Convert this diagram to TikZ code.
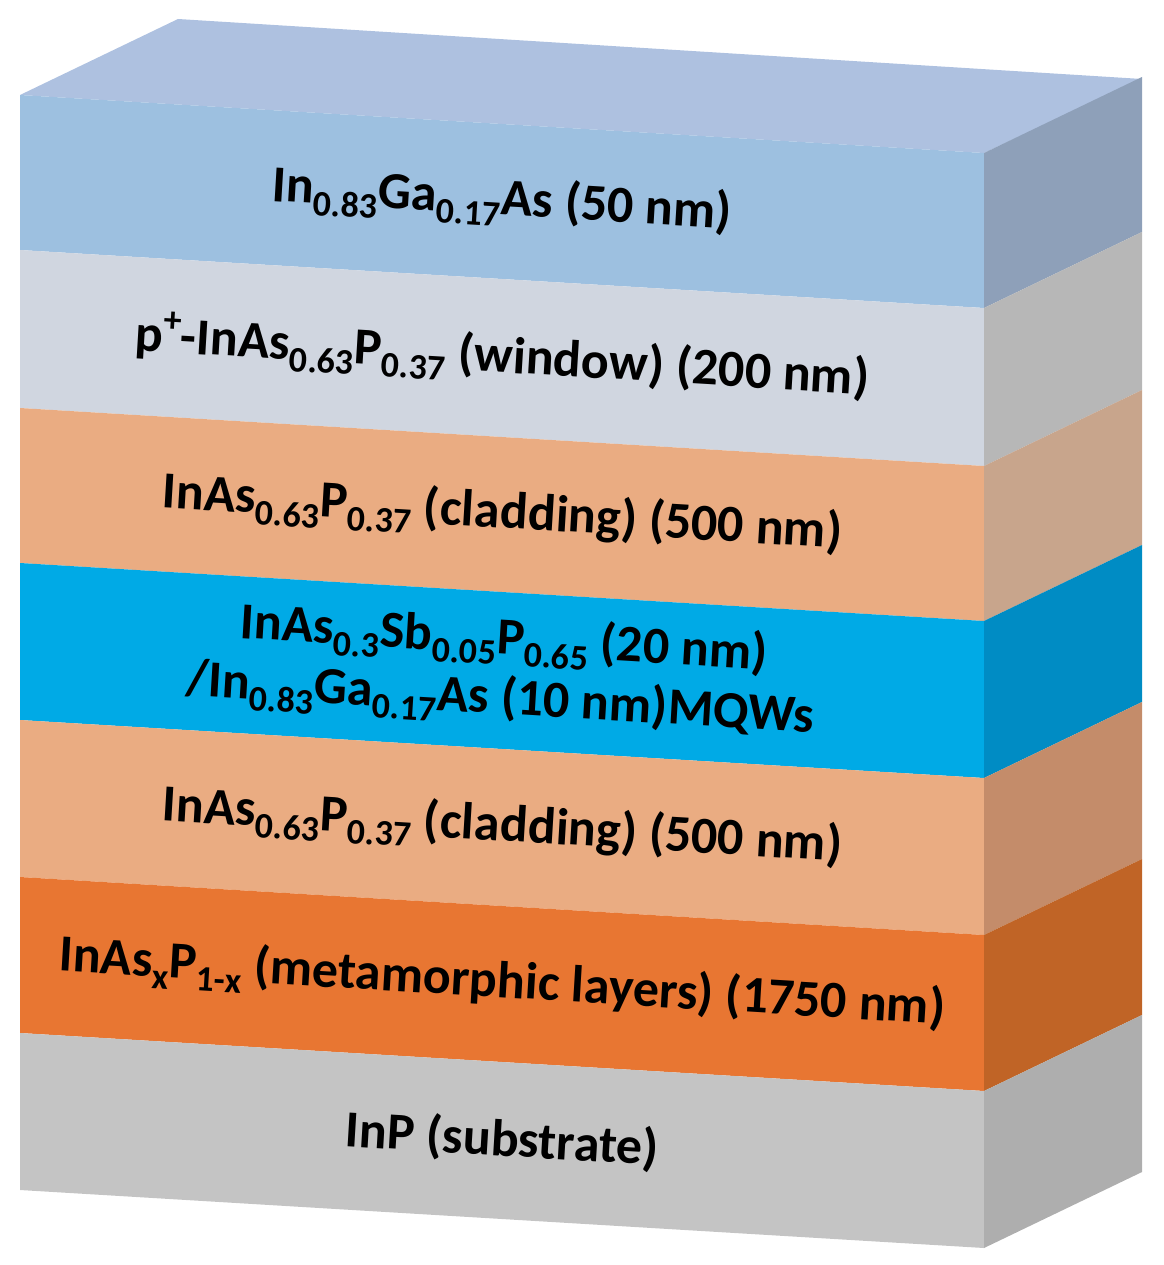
\documentclass[tikz,border=0pt]{standalone}
\usepackage{fontspec}
\setmainfont{Carlito}
\newcommand\sbs[1]{\raisebox{-0.22em}{\fontsize{36}{36}\selectfont #1}}
\newcommand\sps[1]{\raisebox{0.4em}{\fontsize{36}{36}\selectfont #1}}
\begin{document}
\begin{tikzpicture}[x=1pt,y=-1pt,
  lbl/.style={font=\fontsize{52}{60}\selectfont\bfseries,rotate=-3.44,align=center,inner sep=0pt}]
\useasboundingbox (0,0) rectangle (1163,1265);
\def\dx{158}\def\dy{-76}\def\sl{58}
\fill[fill={rgb,255:red,174;green,193;blue,224}] (20,95) -- (178,19) -- (1142,79) -- (984,153) -- cycle;
\foreach \a/\b/\cf/\cs [count=\i] in {
 95/250/{157,192,224}/{142,160,185},
 250/408/{208,214,224}/{183,183,183},
 408/563/{234,172,130}/{200,165,140},
 563/720/{0,170,230}/{0,140,196},
 720/877/{234,172,130}/{196,140,106},
 877/1033/{232,118,50}/{192,100,38},
 1033/1190/{196,196,196}/{174,174,174}}{
  \definecolor{cf\i}{RGB}{\cf}\definecolor{cs\i}{RGB}{\cs}
  \fill[cf\i] (20,\a) -- (984,\a+\sl) -- (984,\b+\sl) -- (20,\b) -- cycle;
  \fill[cs\i] (984,\a+\sl) -- (984+\dx,\a+\sl+\dy) -- (984+\dx,\b+\sl+\dy) -- (984,\b+\sl) -- cycle;
  \coordinate (c\i) at (502,{(\a+\b)/2+29});
}
\node[lbl] (l1) at (c1) {In\sbs{0.83}Ga\sbs{0.17}As (50 nm)};
\node[lbl] (l2) at (c2) {p\sps{+}-InAs\sbs{0.63}P\sbs{0.37} (window) (200 nm)};
\node[lbl] (l3) at (c3) {InAs\sbs{0.63}P\sbs{0.37} (cladding) (500 nm)};
\node[lbl] (l4) at (c4) {InAs\sbs{0.3}Sb\sbs{0.05}P\sbs{0.65} (20 nm)\\/In\sbs{0.83}Ga\sbs{0.17}As (10 nm)MQWs};
\node[lbl] (l5) at (c5) {InAs\sbs{0.63}P\sbs{0.37} (cladding) (500 nm)};
\node[lbl] (l6) at (c6) {InAs\sbs{x}P\sbs{1-x} (metamorphic layers) (1750 nm)};
\node[lbl] (l7) at (c7) {InP (substrate)};
\end{tikzpicture}
\end{document}
